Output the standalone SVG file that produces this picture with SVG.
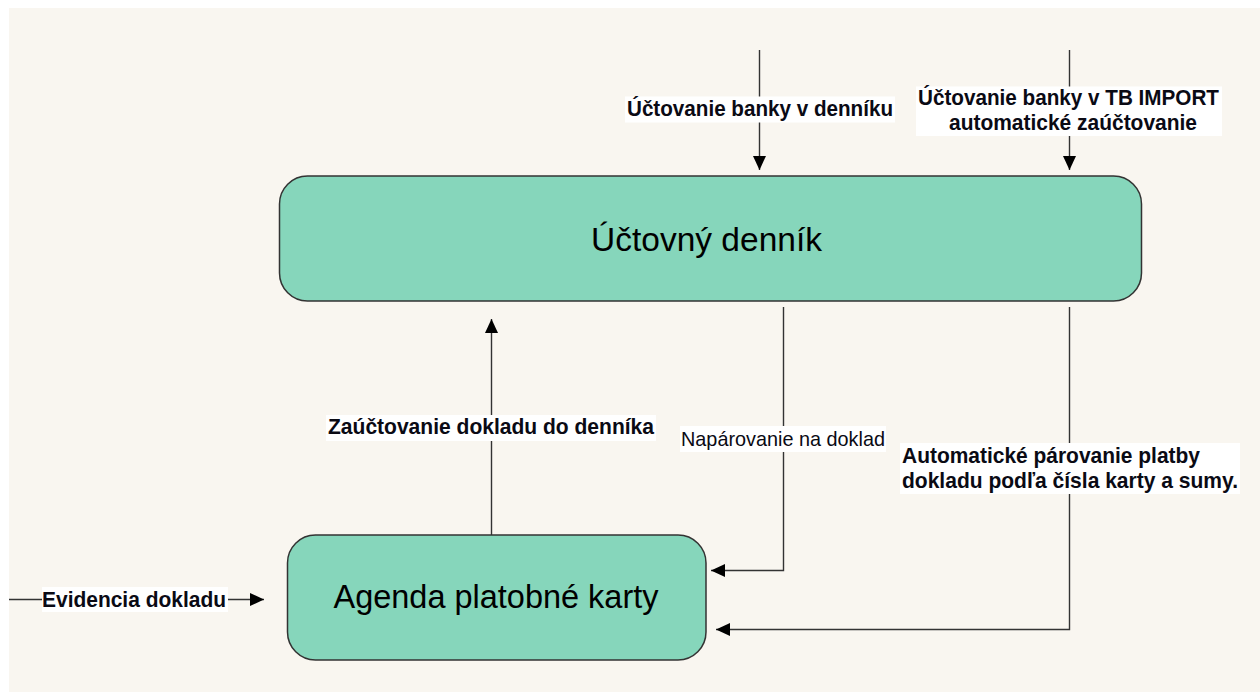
<svg xmlns="http://www.w3.org/2000/svg" width="1260" height="692" viewBox="0 0 1260 692">
<style>
.box{fill:#86d6bb;stroke:#333;stroke-width:1.5}
.node{font-family:"Liberation Sans",Arial,sans-serif;font-size:33.5px;fill:#000;text-anchor:middle}
.line{fill:none;stroke:#333;stroke-width:1.4}
.lbl{font-family:"Liberation Sans",Arial,sans-serif;font-size:21.5px;font-weight:bold;fill:#0a0a14}
.lbln{font-family:"Liberation Sans",Arial,sans-serif;font-size:21px;fill:#0a0a14}
.bg{fill:#fff}
</style>
<defs>
<marker id="ah" markerUnits="userSpaceOnUse" markerWidth="14" markerHeight="13" refX="14" refY="6.5" orient="auto">
<path d="M0,0 L14,6.5 L0,13 z" fill="#000"/>
</marker>
</defs>
<rect x="0" y="0" width="1260" height="692" fill="#fff"/>
<rect x="9" y="8" width="1251" height="684" fill="#f9f6f0"/>
<g id="connectors">
<path class="line" d="M759.5,50 V170" marker-end="url(#ah)"/>
<path class="line" d="M1069.5,50 V170" marker-end="url(#ah)"/>
<path class="line" d="M491.5,535 V319" marker-end="url(#ah)"/>
<path class="line" d="M783.5,307 V570.5 H711" marker-end="url(#ah)"/>
<path class="line" d="M1069.5,307 V629.5 H716" marker-end="url(#ah)"/>
<path class="line" d="M9,599.5 H264" marker-end="url(#ah)"/>
<g id="labels">
<rect class="bg" x="625" y="96.5" width="270" height="26"/>
<text class="lbl" x="627" y="116" textLength="266" lengthAdjust="spacingAndGlyphs">Účtovanie banky v denníku</text>
<rect class="bg" x="916" y="86.5" width="306" height="49.5"/>
<text class="lbl" x="918" y="105" textLength="301" lengthAdjust="spacingAndGlyphs">Účtovanie banky v TB IMPORT</text>
<text class="lbl" x="949" y="130" textLength="248" lengthAdjust="spacingAndGlyphs">automatické zaúčtovanie</text>
<rect class="bg" x="326" y="415" width="330" height="26"/>
<text class="lbl" x="328" y="434" textLength="326" lengthAdjust="spacingAndGlyphs">Zaúčtovanie dokladu do denníka</text>
<rect class="bg" x="680" y="426" width="206" height="26"/>
<text class="lbln" x="681" y="445.5" textLength="204" lengthAdjust="spacingAndGlyphs">Napárovanie na doklad</text>
<rect class="bg" x="900" y="443" width="340" height="51"/>
<text class="lbl" x="902" y="463" textLength="298" lengthAdjust="spacingAndGlyphs">Automatické párovanie platby</text>
<text class="lbl" x="902" y="488" textLength="336" lengthAdjust="spacingAndGlyphs">dokladu podľa čísla karty a sumy.</text>
<rect class="bg" x="42" y="587" width="186" height="25"/>
<text class="lbl" x="42" y="606.5" textLength="184" lengthAdjust="spacingAndGlyphs">Evidencia dokladu</text>
</g>
</g>
<g id="node-uctovny-dennik">
<rect class="box" x="279.5" y="176" width="862" height="125" rx="28" ry="28"/>
<text class="node" x="706.5" y="251" textLength="231" lengthAdjust="spacingAndGlyphs">Účtovný denník</text>
</g>
<g id="node-agenda-platobne-karty">
<rect class="box" x="287.5" y="535" width="418.5" height="125" rx="28" ry="28"/>
<text class="node" x="496" y="607.5" textLength="325" lengthAdjust="spacingAndGlyphs">Agenda platobné karty</text>
</g>
</svg>
